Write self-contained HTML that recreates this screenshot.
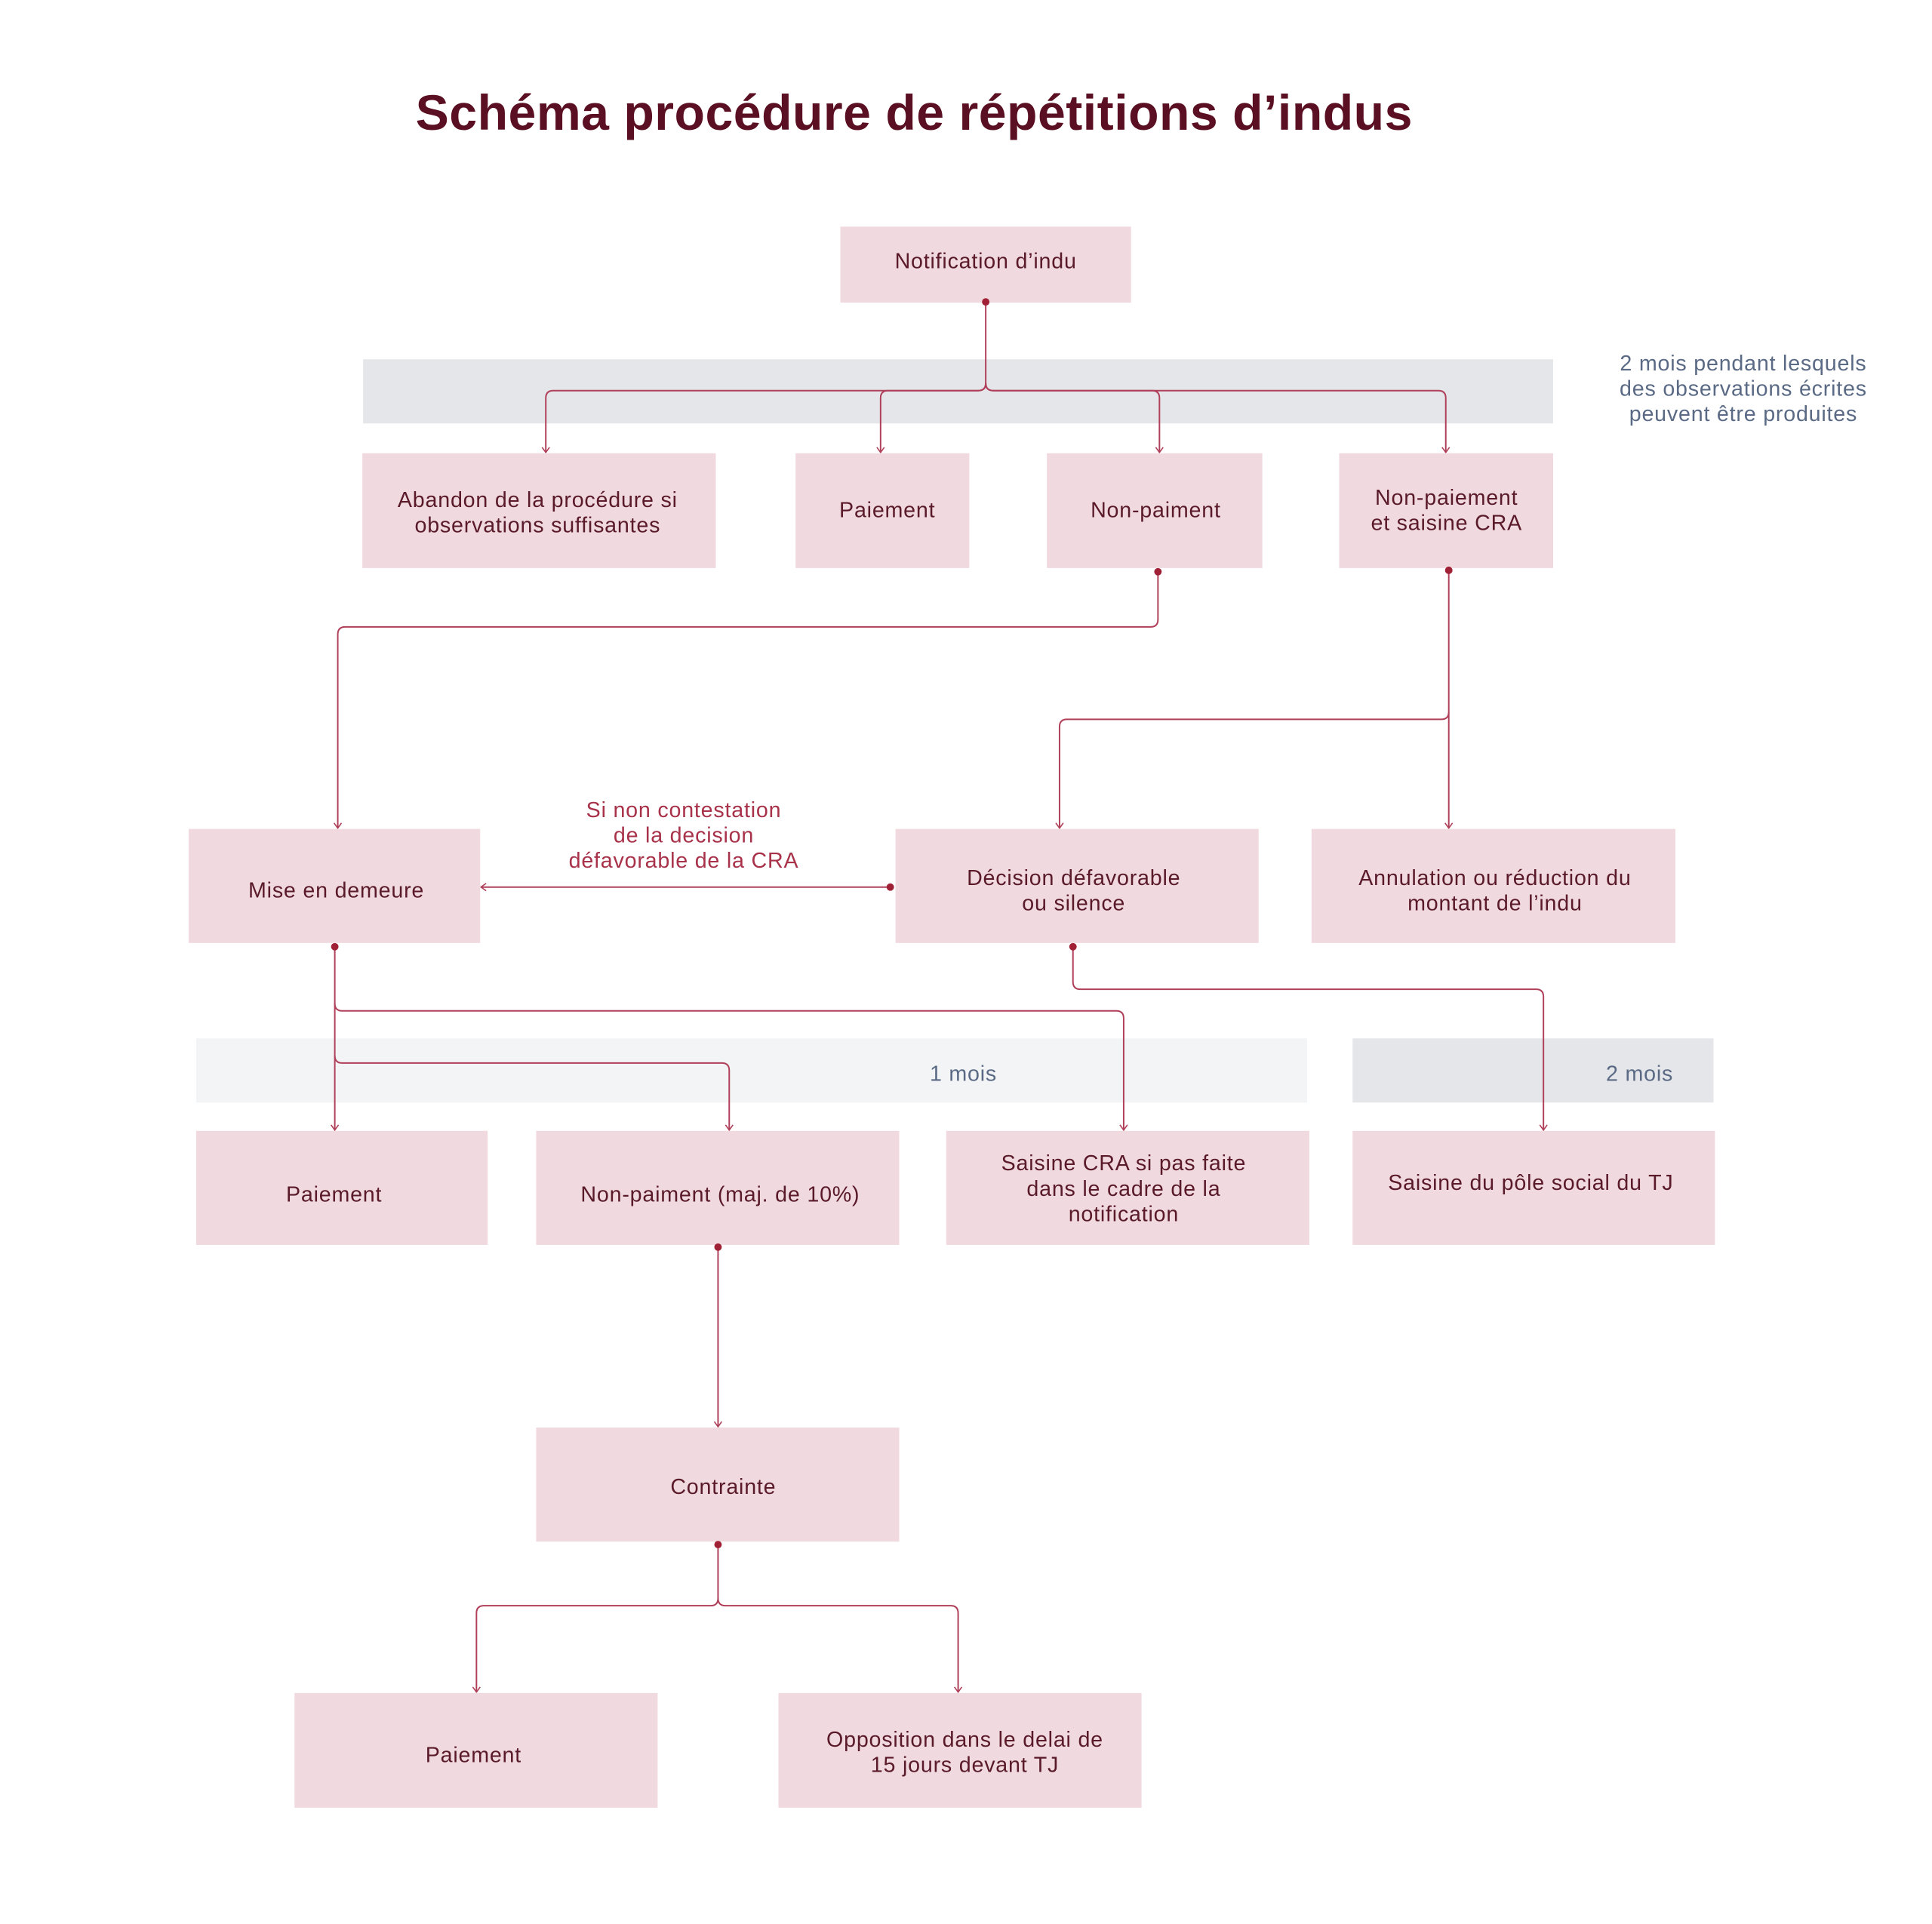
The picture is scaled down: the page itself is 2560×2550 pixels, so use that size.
<!DOCTYPE html>
<html><head><meta charset="utf-8"><style>
html,body{margin:0;padding:0;background:#fff;}
svg{display:block;}
text{font-family:"Liberation Sans",sans-serif;}
.t{font-size:29px;fill:#5a1a2a;text-anchor:middle;letter-spacing:0.8px;}
.s{font-size:29px;fill:#5a6a85;text-anchor:middle;letter-spacing:0.8px;}
.r{font-size:29px;fill:#a8324a;text-anchor:middle;letter-spacing:0.8px;}
.b{fill:#f0dadf;}
.l{fill:none;stroke:#b0405a;stroke-width:2;}
</style></head><body>
<svg width="2560" height="2550" viewBox="0 0 2560 2550" xmlns="http://www.w3.org/2000/svg">
<defs>
<marker id="a" viewBox="0 0 12 12" refX="11" refY="6" markerWidth="12" markerHeight="12" markerUnits="userSpaceOnUse" orient="auto">
<path d="M4 1 L11 6 L4 11" fill="none" stroke="#b0405a" stroke-width="1.6"/>
</marker>
</defs>
<g transform="scale(0.988)">
<text x="1226" y="174" style="font-size:67px;font-weight:bold;fill:#5a0f22;text-anchor:middle;letter-spacing:0.5px">Schéma procédure de répétitions d’indus</text>

<rect x="487" y="482" width="1596" height="86" fill="#e5e6ea"/>
<rect x="263" y="1393" width="1490" height="86" fill="#f3f4f6"/>
<rect x="1814" y="1393" width="484" height="86" fill="#e5e6ea"/>
<text class="s" x="2338" y="497">2 mois pendant lesquels</text>
<text class="s" x="2338" y="531">des observations écrites</text>
<text class="s" x="2338" y="565">peuvent être produites</text>
<text class="s" x="1292" y="1450">1 mois</text>
<text class="s" x="2199" y="1450">2 mois</text>

<rect class="b" x="1127" y="304" width="390" height="102"/>
<text class="t" x="1322" y="360">Notification d’indu</text>

<rect class="b" x="486" y="608" width="474" height="154"/>
<text class="t" x="721" y="680">Abandon de la procédure si</text>
<text class="t" x="721" y="714">observations suffisantes</text>
<rect class="b" x="1067" y="608" width="233" height="154"/>
<text class="t" x="1190" y="694">Paiement</text>
<rect class="b" x="1404" y="608" width="289" height="154"/>
<text class="t" x="1550" y="694">Non-paiment</text>
<rect class="b" x="1796" y="608" width="287" height="154"/>
<text class="t" x="1940" y="677">Non-paiement</text>
<text class="t" x="1940" y="711">et saisine CRA</text>

<rect class="b" x="253" y="1112" width="391" height="153"/>
<text class="t" x="451" y="1204">Mise en demeure</text>
<rect class="b" x="1201" y="1112" width="487" height="153"/>
<text class="t" x="1440" y="1187">Décision défavorable</text>
<text class="t" x="1440" y="1221">ou silence</text>
<rect class="b" x="1759" y="1112" width="488" height="153"/>
<text class="t" x="2005" y="1187">Annulation ou réduction du</text>
<text class="t" x="2005" y="1221">montant de l’indu</text>

<text class="r" x="917" y="1096">Si non contestation</text>
<text class="r" x="917" y="1130">de la decision</text>
<text class="r" x="917" y="1164">défavorable de la CRA</text>

<rect class="b" x="263" y="1517" width="391" height="153"/>
<text class="t" x="448" y="1612">Paiement</text>
<rect class="b" x="719" y="1517" width="487" height="153"/>
<text class="t" x="966" y="1612">Non-paiment (maj. de 10%)</text>
<rect class="b" x="1269" y="1517" width="487" height="153"/>
<text class="t" x="1507" y="1570">Saisine CRA si pas faite</text>
<text class="t" x="1507" y="1604">dans le cadre de la</text>
<text class="t" x="1507" y="1638">notification</text>
<rect class="b" x="1814" y="1517" width="486" height="153"/>
<text class="t" x="2053" y="1596">Saisine du pôle social du TJ</text>

<rect class="b" x="719" y="1915" width="487" height="153"/>
<text class="t" x="970" y="2004">Contrainte</text>

<rect class="b" x="395" y="2271" width="487" height="154"/>
<text class="t" x="635" y="2364">Paiement</text>
<rect class="b" x="1044" y="2271" width="487" height="154"/>
<text class="t" x="1294" y="2343">Opposition dans le delai de</text>
<text class="t" x="1294" y="2377">15 jours devant TJ</text>

<g class="l">
<path d="M1322 405 V514 Q1322 524 1312 524 H742 Q732 524 732 534 V607" marker-end="url(#a)"/>
<path d="M1322 514 Q1322 524 1312 524 H1191 Q1181 524 1181 534 V607" marker-end="url(#a)"/>
<path d="M1322 514 Q1322 524 1332 524 H1545 Q1555 524 1555 534 V607" marker-end="url(#a)"/>
<path d="M1322 514 Q1322 524 1332 524 H1929 Q1939 524 1939 534 V607" marker-end="url(#a)"/>

<path d="M1553 767 V831 Q1553 841 1543 841 H463 Q453 841 453 851 V1111" marker-end="url(#a)"/>
<path d="M1943 765 V1111" marker-end="url(#a)"/>
<path d="M1943 955 Q1943 965 1933 965 H1431 Q1421 965 1421 975 V1111" marker-end="url(#a)"/>

<path d="M1194 1190 H645" marker-end="url(#a)"/>

<path d="M449 1270 V1516" marker-end="url(#a)"/>
<path d="M449 1346 Q449 1356 459 1356 H1497 Q1507 1356 1507 1366 V1516" marker-end="url(#a)"/>
<path d="M449 1416 Q449 1426 459 1426 H968 Q978 1426 978 1436 V1516" marker-end="url(#a)"/>
<path d="M1439 1270 V1317 Q1439 1327 1449 1327 H2060 Q2070 1327 2070 1337 V1516" marker-end="url(#a)"/>

<path d="M963 1673 V1914" marker-end="url(#a)"/>
<path d="M963 2072 V2144 Q963 2154 953 2154 H649 Q639 2154 639 2164 V2270" marker-end="url(#a)"/>
<path d="M963 2144 Q963 2154 973 2154 H1275 Q1285 2154 1285 2164 V2270" marker-end="url(#a)"/>
</g>
<g fill="#a02035">
<circle cx="1322" cy="405" r="5"/>
<circle cx="1553" cy="767" r="5"/>
<circle cx="1943" cy="765" r="5"/>
<circle cx="1194" cy="1190" r="5"/>
<circle cx="449" cy="1270" r="5"/>
<circle cx="1439" cy="1270" r="5"/>
<circle cx="963" cy="1673" r="5"/>
<circle cx="963" cy="2072" r="5"/>
</g>
</g>
</svg>
</body></html>
